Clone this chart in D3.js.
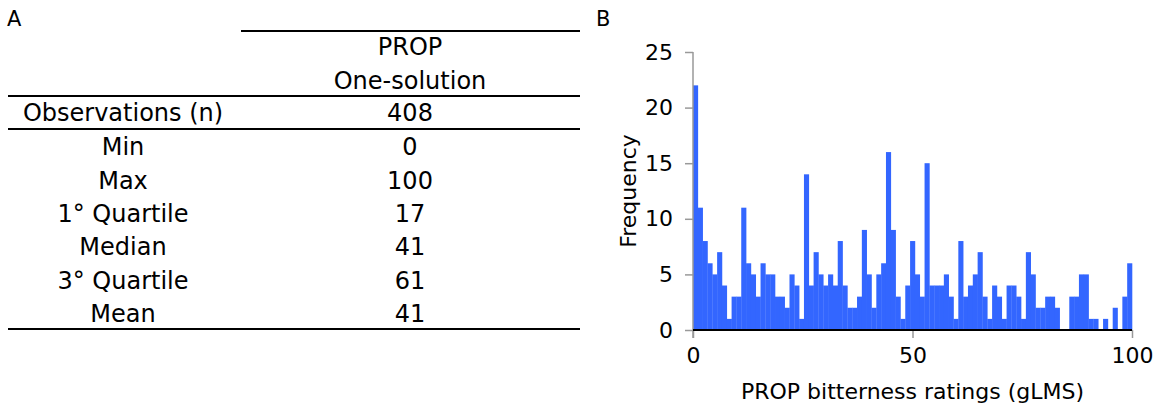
<!DOCTYPE html>
<html>
<head>
<meta charset="utf-8">
<script src="https://cdn.jsdelivr.net/npm/d3@7"></script>
<style>
  body { margin: 0; background: #fff; }
  svg text { font-family: "DejaVu Sans", Verdana, sans-serif; fill: #000; }
</style>
</head>
<body>
<div id="chart"></div>
<script>
// Panel A: summary table
const headerLines = ["PROP", "One-solution"];
const obsLabel = "Observations (n)";
const obsValue = "408";
const statLabels = ["Min", "Max", "1° Quartile", "Median", "3° Quartile", "Mean"];
const statValues = ["0", "100", "17", "41", "61", "41"];

// Panel B: histogram of PROP ratings (91 bins over 0-100)
const binCounts = [22, 11, 8, 6, 5, 7, 4, 1, 3, 3,
                   11, 6, 5, 3, 6, 5, 5, 3, 3, 2,
                   5, 4, 1, 14, 4, 7, 5, 4, 5, 4,
                   8, 4, 2, 2, 3, 9, 5, 2, 5, 6,
                   16, 9, 3, 1, 4, 8, 5, 3, 15, 4,
                   4, 4, 5, 3, 1, 8, 3, 4, 5, 7,
                   3, 1, 4, 3, 1, 4, 4, 3, 1, 7,
                   5, 2, 2, 3, 3, 2, 0, 0, 3, 3,
                   5, 5, 1, 1, 0, 1, 0, 2, 0, 3, 6];
const yTicks = [0, 5, 10, 15, 20, 25];
const xTicks = [0, 50, 100];

const W = 1156, H = 405;
const svg = d3.select("#chart").append("svg")
  .attr("width", W).attr("height", H);

// ---- Panel A ----
const tbl = svg.append("g");
const leftCol = 123, rightCol = 410;
const rowH = 33.3;
const tblFont = "24px";

svg.append("text").attr("x", 7).attr("y", 26)
  .style("font-size", "21px").text("A");

const rules = [
  {x1: 241, x2: 580, y: 31},
  {x1: 8, x2: 580, y: 96},
  {x1: 8, x2: 580, y: 129},
  {x1: 8, x2: 580, y: 329}
];
tbl.selectAll("line.rule")
  .data(rules)
  .enter().append("line")
  .attr("class", "rule")
  .attr("x1", d => d.x1).attr("x2", d => d.x2)
  .attr("y1", d => d.y).attr("y2", d => d.y)
  .attr("stroke", "#000").attr("stroke-width", 2);

tbl.selectAll("text.head")
  .data(headerLines)
  .enter().append("text")
  .attr("class", "head")
  .attr("x", rightCol)
  .attr("y", (d, i) => 47 + i * rowH)
  .attr("dy", "0.35em")
  .attr("text-anchor", "middle")
  .style("font-size", tblFont)
  .text(d => d);

tbl.append("text").attr("x", leftCol).attr("y", 113).attr("dy", "0.35em")
  .attr("text-anchor", "middle").style("font-size", tblFont).text(obsLabel);
tbl.append("text").attr("x", rightCol).attr("y", 113).attr("dy", "0.35em")
  .attr("text-anchor", "middle").style("font-size", tblFont).text(obsValue);

const rows = tbl.selectAll("g.row")
  .data(statLabels)
  .enter().append("g")
  .attr("class", "row")
  .attr("transform", (d, i) => `translate(0,${147 + i * rowH})`);

rows.append("text")
  .attr("x", leftCol).attr("dy", "0.35em")
  .attr("text-anchor", "middle").style("font-size", tblFont)
  .text(d => d);

rows.append("text")
  .attr("x", rightCol).attr("dy", "0.35em")
  .attr("text-anchor", "middle").style("font-size", tblFont)
  .text((d, i) => statValues[i]);

// ---- Panel B ----
svg.append("text").attr("x", 596).attr("y", 26)
  .style("font-size", "21px").text("B");

const x = d3.scaleLinear().domain([0, 100]).range([693, 1132]);
const y = d3.scaleLinear().domain([0, 25]).range([330, 52]);
const bin = d3.scaleBand()
  .domain(d3.range(binCounts.length))
  .range([x(0), x(100)])
  .padding(0);

svg.append("g")
  .selectAll("rect")
  .data(binCounts)
  .enter().append("rect")
  .attr("x", (d, i) => bin(i))
  .attr("width", bin.bandwidth() + 0.3)
  .attr("y", d => y(d))
  .attr("height", d => y(0) - y(d))
  .attr("fill", "#3366ff");

// y axis
const yAxis = svg.append("g")
  .attr("transform", `translate(${x(0)},0)`)
  .call(d3.axisLeft(y).tickValues(yTicks).tickSize(8).tickPadding(12));
yAxis.select(".domain").remove();
yAxis.selectAll(".tick line").attr("stroke", "#999").attr("stroke-width", 1.5);
yAxis.selectAll(".tick text").style("font-size", "22px");
yAxis.append("line")
  .attr("x1", 0).attr("x2", 0)
  .attr("y1", y(25)).attr("y2", y(0) + 8)
  .attr("stroke", "#999").attr("stroke-width", 1.5);

// x axis
const xAxis = svg.append("g")
  .attr("transform", `translate(0,${y(0)})`)
  .call(d3.axisBottom(x).tickValues(xTicks).tickSize(8).tickPadding(9));
xAxis.select(".domain").remove();
xAxis.selectAll(".tick line").attr("stroke", "#999").attr("stroke-width", 1.5);
xAxis.selectAll(".tick text").style("font-size", "22px");
xAxis.append("line")
  .attr("x1", x(0)).attr("x2", x(100))
  .attr("stroke", "#000").attr("stroke-width", 2);

svg.append("text")
  .attr("x", (x(0) + x(100)) / 2).attr("y", 391)
  .attr("dy", "0.35em")
  .attr("text-anchor", "middle")
  .style("font-size", "22px")
  .text("PROP bitterness ratings (gLMS)");

svg.append("text")
  .attr("transform", `translate(628,${(y(0) + y(25)) / 2}) rotate(-90)`)
  .attr("dy", "0.35em")
  .attr("text-anchor", "middle")
  .style("font-size", "22px")
  .text("Frequency");
</script>
</body>
</html>
